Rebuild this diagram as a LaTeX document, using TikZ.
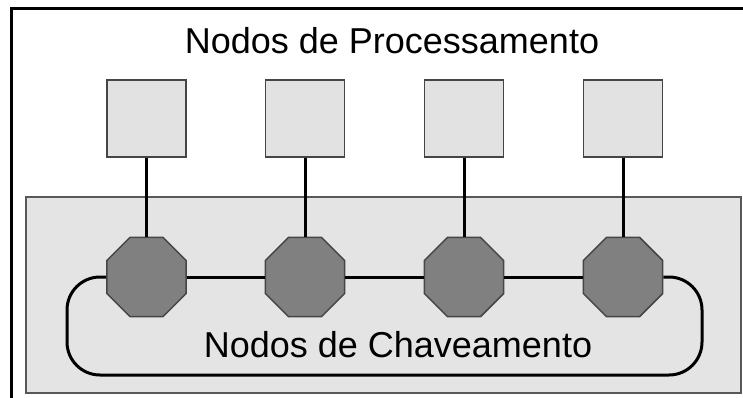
\documentclass[tikz,border=0pt]{standalone}
\usepackage{fontspec}
\setmainfont{Liberation Sans}
\usepackage{tikz}
\usetikzlibrary{shapes}
\definecolor{boxgray}{HTML}{E2E2E2}
\definecolor{areagray}{HTML}{E4E4E4}
\definecolor{octgray}{HTML}{808080}
\definecolor{edgegray}{HTML}{454545}
\begin{document}
\begin{tikzpicture}[x=1pt, y=-1pt,
	proc/.style={fill=boxgray, draw=edgegray, line width=1.8pt, shape=rectangle, minimum width=79pt, minimum height=77pt, inner sep=0pt},
	switch/.style={fill=octgray, draw=edgegray, line width=1.5pt, shape=regular polygon, regular polygon sides=8, minimum size=86pt, inner sep=0pt},
	link/.style={line width=3pt, draw=black},
	label/.style={font=\fontsize{36}{40}\selectfont, anchor=base, inner sep=0pt}]
	\useasboundingbox (0,0) rectangle (743,398);
	% outer frame
	\draw [line width=3pt] (11,398) -- (11,9) -- (743,9);
	% switching area
	\draw [fill=areagray, draw=edgegray!90, line width=1.8pt] (26,197) rectangle (741,393);
	\node [label] (title) at (392,54) {Nodos de Processamento};
	\node [label] (sub) at (398,357) {Nodos de Chaveamento};
	\node [proc] (p1) at (146.5,118.5) {};
	\node [proc] (p2) at (305,118.5) {};
	\node [proc] (p3) at (464,118.5) {};
	\node [proc] (p4) at (623,118.5) {};
	\node [switch] (s1) at (146.5,277) {};
	\node [switch] (s2) at (305,277) {};
	\node [switch] (s3) at (464,277) {};
	\node [switch] (s4) at (623,277) {};
	\draw [link] (p1) -- (s1);
	\draw [link] (p2) -- (s2);
	\draw [link] (p3) -- (s3);
	\draw [link] (p4) -- (s4);
	\draw [link] (s1) -- (s2);
	\draw [link] (s2) -- (s3);
	\draw [link] (s3) -- (s4);
	\draw [link, rounded corners=33pt] (s1.west) -- (67,277) -- (67,375) -- (702,375) -- (702,277) -- (s4.east);
\end{tikzpicture}
\end{document}
